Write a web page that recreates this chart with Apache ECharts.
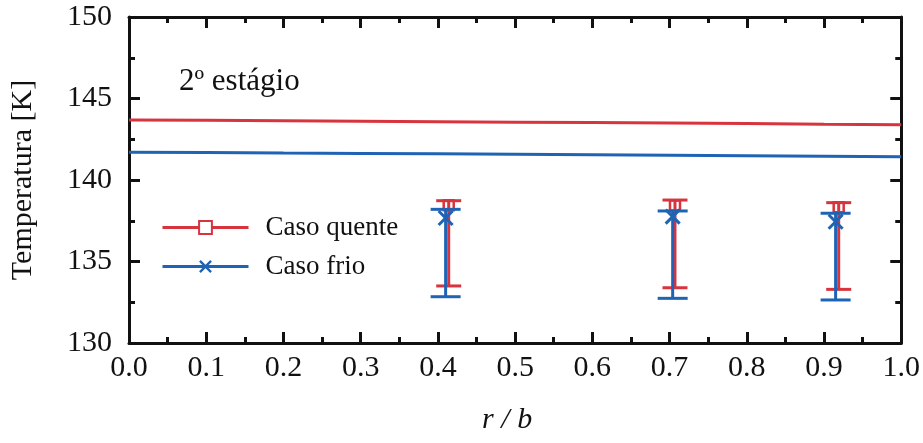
<!DOCTYPE html>
<html>
<head>
<meta charset="utf-8">
<script src="https://cdn.jsdelivr.net/npm/echarts@6/dist/echarts.min.js"></script>
<style>
html,body{margin:0;padding:0;background:#fff;}
#chart{width:923px;height:443px;}
</style>
</head>
<body>
<div id="chart"></div>
<script>
// ---- data ----
const lineX = [0.0, 0.1, 0.2, 0.3, 0.4, 0.5, 0.6, 0.7, 0.8, 0.9, 1.0];
const hotLine = [143.68, 143.66, 143.64, 143.61, 143.58, 143.55, 143.52, 143.49, 143.46, 143.42, 143.39];
const coldLine = [141.70, 141.68, 141.65, 141.63, 141.61, 141.58, 141.55, 141.52, 141.49, 141.46, 141.43];

const hotBarX = [0.414, 0.707, 0.919];
const hotLow = [133.50, 133.39, 133.29];
const hotHigh = [138.73, 138.77, 138.61];
const hotMark = [138.45, 138.44, 138.33];

const coldBarX = [0.410, 0.704, 0.915];
const coldLow = [132.84, 132.74, 132.64];
const coldHigh = [138.20, 138.10, 137.96];
const coldMark = [137.67, 137.75, 137.44];

const xTicks = ['0.0','0.1','0.2','0.3','0.4','0.5','0.6','0.7','0.8','0.9','1.0'];
const yTicks = ['130','135','140','145','150'];

const seriesNames = ['Caso quente', 'Caso frio'];
const stageLabel = '2º estágio';

// ---- styles ----
const RED = '#d8343e';
const BLUE = '#1f63b5';
const FONT = '"Liberation Serif", "DejaVu Serif", serif';
const X_SYMBOL = 'path://M0,1.3 L1.3,0 L5,3.7 L8.7,0 L10,1.3 L6.3,5 L10,8.7 L8.7,10 L5,6.3 L1.3,10 L0,8.7 L3.7,5 Z';

const chart = echarts.init(document.getElementById('chart'), null, {renderer: 'canvas'});

function bars(xs, lo, hi, mk) {
  return xs.map((x, i) => [x, lo[i], hi[i], mk[i]]);
}

function errRender(color, capHalf, kind) {
  return function (params, api) {
    const x = api.value(0);
    const pLo = api.coord([x, api.value(1)]);
    const pHi = api.coord([x, api.value(2)]);
    const pM = api.coord([x, api.value(3)]);
    const st = {stroke: color, lineWidth: 3, fill: null};
    const ch = [
      {type: 'line', shape: {x1: pLo[0], y1: pLo[1], x2: pHi[0], y2: pHi[1]}, style: st},
      {type: 'line', shape: {x1: pHi[0] - capHalf, y1: pHi[1], x2: pHi[0] + capHalf, y2: pHi[1]}, style: st},
      {type: 'line', shape: {x1: pLo[0] - capHalf, y1: pLo[1], x2: pLo[0] + capHalf, y2: pLo[1]}, style: st}
    ];
    if (kind === 'rect') {
      ch.push({type: 'rect', shape: {x: pM[0] - 5, y: pM[1] - 5, width: 10, height: 10}, style: {stroke: color, lineWidth: 2.5, fill: null}});
    } else {
      const s = 7;
      ch.push({type: 'line', shape: {x1: pM[0] - s, y1: pM[1] - s, x2: pM[0] + s, y2: pM[1] + s}, style: st});
      ch.push({type: 'line', shape: {x1: pM[0] - s, y1: pM[1] + s, x2: pM[0] + s, y2: pM[1] - s}, style: st});
    }
    return {type: 'group', children: ch};
  };
}

const INK = '#111';
const majorTick = {show: true, inside: true, length: 11, lineStyle: {color: INK, width: 3}};
const minorTickAx = {show: true, inside: true, length: 6, lineStyle: {color: INK, width: 3}};

function frameAxis(pos, min, max, interval, tick, showLine) {
  return {
    type: 'value', min: min, max: max, interval: interval, position: pos,
    axisLine: {show: showLine, onZero: false, lineStyle: {color: INK, width: 3}},
    axisTick: tick, splitLine: {show: false}, axisLabel: {show: false}
  };
}

const option = {
  backgroundColor: '#fff',
  animation: false,
  grid: {left: 128, right: 21, top: 17, bottom: 100, containLabel: false},
  legend: {
    orient: 'vertical',
    left: 156,
    top: 209,
    itemWidth: 86,
    itemHeight: 16,
    itemGap: 12,
    data: seriesNames,
    lineStyle: {width: 3},
    textStyle: {fontFamily: FONT, fontSize: 27, color: INK, padding: [0, 0, 0, 12]},
    selectedMode: false
  },
  xAxis: [{
    type: 'value', min: 0, max: 1, interval: 0.1, position: 'bottom',
    axisLine: {show: true, onZero: false, lineStyle: {color: INK, width: 3}},
    axisTick: majorTick,
    splitLine: {show: false},
    axisLabel: {
      margin: 10, fontFamily: FONT, fontSize: 30, color: INK,
      formatter: v => xTicks[Math.round(v * 10)]
    },
    name: 'r / b', nameLocation: 'middle', nameGap: 62,
    nameTextStyle: {fontFamily: FONT, fontSize: 30, fontStyle: 'italic', color: INK, padding: [0, 16, 0, 0]}
  },
    frameAxis('top', 0, 1, 0.1, majorTick, true),
    frameAxis('bottom', 0, 1, 0.05, minorTickAx, false),
    frameAxis('top', 0, 1, 0.05, minorTickAx, false)
  ],
  yAxis: [{
    type: 'value', min: 130, max: 150, interval: 5, position: 'left',
    axisLine: {show: true, onZero: false, lineStyle: {color: INK, width: 3}},
    axisTick: majorTick,
    splitLine: {show: false},
    axisLabel: {
      margin: 17, fontFamily: FONT, fontSize: 30, color: INK,
      formatter: v => yTicks[Math.round((v - 130) / 5)]
    },
    name: 'Temperatura [K]', nameLocation: 'middle', nameGap: 91, nameRotate: 90,
    nameTextStyle: {fontFamily: FONT, fontSize: 30, color: INK}
  },
    frameAxis('right', 130, 150, 5, majorTick, true),
    frameAxis('left', 130, 150, 2.5, minorTickAx, false),
    frameAxis('right', 130, 150, 2.5, minorTickAx, false)
  ],
  graphic: [{
    type: 'text', left: 179, top: 66,
    style: {text: stageLabel, fontFamily: FONT, fontSize: 31, fill: INK}
  }],
  series: [
    {
      name: seriesNames[0], type: 'line', xAxisIndex: 0, yAxisIndex: 0,
      data: lineX.map((x, i) => [x, hotLine[i]]),
      showSymbol: false, symbol: 'emptyRect', symbolSize: 14,
      lineStyle: {color: RED, width: 3}, itemStyle: {color: RED, borderWidth: 2.5},
      z: 2
    },
    {
      name: seriesNames[1], type: 'line', xAxisIndex: 0, yAxisIndex: 0,
      data: lineX.map((x, i) => [x, coldLine[i]]),
      showSymbol: false, symbol: X_SYMBOL, symbolSize: 15,
      lineStyle: {color: BLUE, width: 3}, itemStyle: {color: BLUE},
      z: 2
    },
    {
      name: 'hotErr', type: 'custom', xAxisIndex: 0, yAxisIndex: 0,
      renderItem: errRender(RED, 12.5, 'rect'),
      data: bars(hotBarX, hotLow, hotHigh, hotMark), z: 3
    },
    {
      name: 'coldErr', type: 'custom', xAxisIndex: 0, yAxisIndex: 0,
      renderItem: errRender(BLUE, 15, 'x'),
      data: bars(coldBarX, coldLow, coldHigh, coldMark), z: 4
    }
  ]
};
chart.setOption(option);
</script>
</body>
</html>
